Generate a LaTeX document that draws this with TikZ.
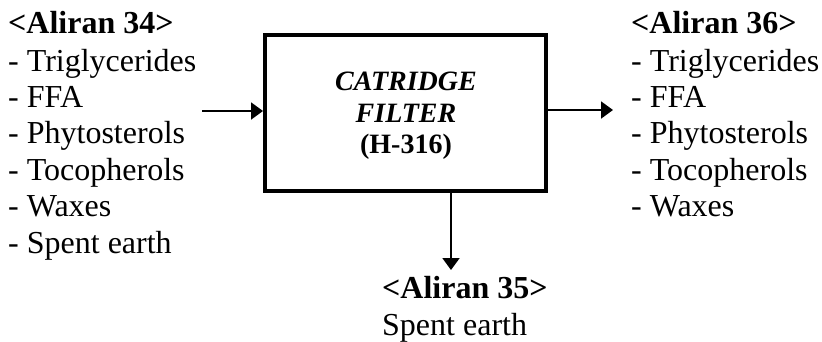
\documentclass[tikz,border=0pt]{standalone}
\usepackage{fontspec}
\setmainfont{Liberation Serif}
\usetikzlibrary{arrows.meta}
\begin{document}
\begin{tikzpicture}[x=1pt,y=-1pt,
  txt/.style={anchor=base west,inner sep=0pt,font=\fontsize{32}{36}\selectfont},
  hdr/.style={txt,font=\fontsize{32}{36}\selectfont\bfseries},
  boxtxt/.style={anchor=base,inner sep=0pt,font=\fontsize{28}{32}\selectfont\bfseries},
  unit/.style={draw,line width=4pt,minimum width=281pt,minimum height=156pt,inner sep=0pt},
  arr/.style={line width=2pt,-{Triangle[length=12pt,width=17pt]}}]
\useasboundingbox (0,0) rectangle (822,341);
% box
\node[unit] (box) at (405.5,113) {};
\node[boxtxt,font=\fontsize{28}{32}\selectfont\bfseries\itshape] (b1) at (406,90) {CATRIDGE};
\node[boxtxt,font=\fontsize{28}{32}\selectfont\bfseries\itshape] (b2) at (406,122) {FILTER};
\node[boxtxt] (b3) at (406,153) {(H-316)};
% left column
\node[hdr] (l0) at (8,33) {<Aliran 34>};
\node[txt] (l1) at (8,71) {- Triglycerides};
\node[txt] (l2) at (8,107) {- FFA};
\node[txt] (l3) at (8,143) {- Phytosterols};
\node[txt] (l4) at (8,180) {- Tocopherols};
\node[txt] (l5) at (8,216) {- Waxes};
\node[txt] (l6) at (8,253) {- Spent earth};
% right column
\node[hdr] (r0) at (631,33) {<Aliran 36>};
\node[txt] (r1) at (631,71) {- Triglycerides};
\node[txt] (r2) at (631,107) {- FFA};
\node[txt] (r3) at (631,143) {- Phytosterols};
\node[txt] (r4) at (631,180) {- Tocopherols};
\node[txt] (r5) at (631,216) {- Waxes};
% bottom
\node[hdr] (d0) at (382,298) {<Aliran 35>};
\node[txt] (d1) at (382,335) {Spent earth};
% arrows
\coordinate (inL) at (202,111);
\coordinate (outR) at (613,110);
\coordinate (dn) at (451,270);
\draw[arr] (inL) -- (inL -| box.west);
\draw[arr] (outR -| box.east) -- (outR);
\draw[arr] (dn |- box.south) -- (dn);
\end{tikzpicture}
\end{document}
